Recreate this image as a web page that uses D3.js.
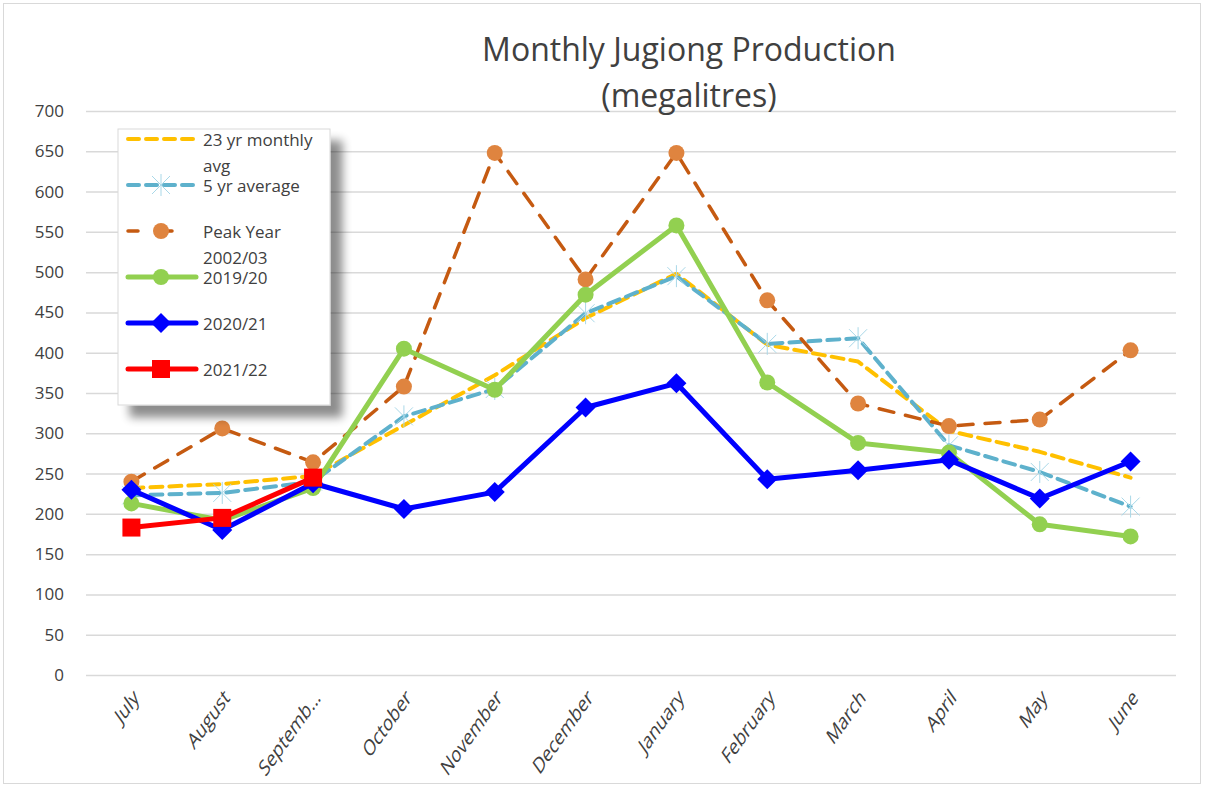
<!DOCTYPE html>
<html>
<head>
<meta charset="utf-8">
<script src="https://cdn.jsdelivr.net/npm/d3@7"></script>
<style>
  body { margin: 0; background: #fff; }
  svg text { font-family: "Open Sans", "Noto Sans", sans-serif; fill: #404040; }
</style>
</head>
<body>
<div id="chart"></div>
<script>
// months on the x axis
let months = ["July", "August", "Septemb...", "October", "November", "December",
  "January", "February", "March", "April", "May", "June"];

// y axis ticks
let yTicks = [0, 50, 100, 150, 200, 250, 300, 350, 400, 450, 500, 550, 600, 650, 700];

// series values (megalitres)
let avg23 = [232, 237, 247, 310, 372, 443, 498, 410, 389, 303, 277, 245];
let avg5 = [223, 226, 240, 321, 355, 449, 495, 411, 418, 285, 252, 209];
let peak0203 = [240, 306, 264, 358, 648, 491, 648, 465, 337, 309, 317, 403];
let y1920 = [213, 192, 232, 405, 354, 472, 558, 363, 288, 276, 187, 172];
let y2021 = [230, 180, 238, 206, 227, 332, 362, 243, 254, 267, 219, 265];
let y2122 = [183, 195, 245];

let width = 1206;
let height = 787;
let plotLeft = 86;
let plotRight = 1176;
let plotTop = 111;
let plotBottom = 675;

let svg = d3.select("#chart")
  .append("svg")
  .attr("width", width)
  .attr("height", height);

// outer chart border
svg.append("rect")
  .attr("x", 3.5).attr("y", 3.5)
  .attr("width", 1197).attr("height", 780)
  .attr("fill", "#fff")
  .attr("stroke", "#d9d9d9");

let xScale = d3.scalePoint()
  .domain(months)
  .range([plotLeft, plotRight])
  .padding(0.5);

let yScale = d3.scaleLinear()
  .domain([0, 700])
  .range([plotBottom, plotTop]);

// gridlines + y labels
let yAxis = d3.axisLeft(yScale)
  .tickValues(yTicks)
  .tickSize(-(plotRight - plotLeft))
  .tickPadding(22);

let yG = svg.append("g")
  .attr("transform", "translate(" + plotLeft + ",0)")
  .call(yAxis);
yG.select(".domain").remove();
yG.selectAll(".tick line").attr("stroke", "#d9d9d9").attr("stroke-width", 1.5);
yG.selectAll(".tick text")
  .attr("font-size", 17)
  .attr("fill", "#404040")
  .style("font-family", "'Open Sans', sans-serif");

// x labels, rotated (the picture is a bit stretched vertically, so the text looks sheared)
let xAxis = d3.axisBottom(xScale).tickSize(0).tickPadding(0);
let xG = svg.append("g")
  .attr("transform", "translate(0," + plotBottom + ")")
  .call(xAxis);
xG.select(".domain").remove();
xG.selectAll(".tick text")
  .attr("font-size", 16)
  .attr("fill", "#404040")
  .style("font-family", "'Open Sans', sans-serif")
  .attr("text-anchor", "end")
  .attr("dy", 0)
  .attr("transform", "translate(8,24) scale(1,1.4) rotate(-45)");

// title
svg.append("text")
  .attr("x", 689).attr("y", 61)
  .attr("text-anchor", "middle")
  .attr("font-size", 32)
  .text("Monthly Jugiong Production");
svg.append("text")
  .attr("x", 689).attr("y", 107)
  .attr("text-anchor", "middle")
  .attr("font-size", 32)
  .text("(megalitres)");

let line = d3.line()
  .x(function(d, i) { return xScale(months[i]); })
  .y(function(d) { return yScale(d); });

// series config
let series = [
  { name: "avg23", data: avg23, color: "#ffc000", width: 4, dash: "12,7", marker: "none" },
  { name: "avg5", data: avg5, color: "#5eb1cc", width: 4, dash: "12,7", marker: "star" },
  { name: "peak", data: peak0203, color: "#c55a11", width: 3.5, dash: "15,12", marker: "circle", mColor: "#df843f" },
  { name: "y1920", data: y1920, color: "#92d050", width: 5, dash: null, marker: "circle", mColor: "#92d050" },
  { name: "y2021", data: y2021, color: "#0000ff", width: 5, dash: null, marker: "diamond", mColor: "#0000ff" },
  { name: "y2122", data: y2122, color: "#ff0000", width: 5, dash: null, marker: "square", mColor: "#ff0000" }
];

function drawMarker(g, type, x, y, color) {
  if (type === "circle") {
    g.append("circle").attr("cx", x).attr("cy", y).attr("r", 8).attr("fill", color);
  } else if (type === "diamond") {
    g.append("path")
      .attr("d", "M" + x + "," + (y - 10) + "L" + (x + 10) + "," + y + "L" + x + "," + (y + 10) + "L" + (x - 10) + "," + y + "Z")
      .attr("fill", color);
  } else if (type === "square") {
    g.append("rect").attr("x", x - 9).attr("y", y - 9).attr("width", 18).attr("height", 18).attr("fill", color);
  } else if (type === "star") {
    let s = 9;
    g.append("path")
      .attr("d", "M" + (x - s) + "," + (y - s) + "L" + (x + s) + "," + (y + s) +
        "M" + (x - s) + "," + (y + s) + "L" + (x + s) + "," + (y - s) +
        "M" + x + "," + (y - s - 2) + "L" + x + "," + (y + s + 2))
      .attr("stroke", "#a9d8e8").attr("stroke-width", 1).attr("fill", "none");
  }
}

series.forEach(function(s) {
  let g = svg.append("g").attr("class", "series " + s.name);
  g.append("path")
    .datum(s.data)
    .attr("d", line)
    .attr("fill", "none")
    .attr("stroke", s.color)
    .attr("stroke-width", s.width)
    .attr("stroke-dasharray", s.dash)
    .attr("stroke-linejoin", "round")
    .attr("stroke-linecap", "round");
  s.data.forEach(function(v, i) {
    drawMarker(g, s.marker, xScale(months[i]), yScale(v), s.mColor);
  });
});

// legend with drop shadow
let defs = svg.append("defs");
let filter = defs.append("filter").attr("id", "shadow")
  .attr("x", "-10%").attr("y", "-10%").attr("width", "130%").attr("height", "130%");
filter.append("feGaussianBlur").attr("in", "SourceAlpha").attr("stdDeviation", 5);
filter.append("feOffset").attr("dx", 12).attr("dy", 12).attr("result", "blur");
filter.append("feComponentTransfer").append("feFuncA").attr("type", "linear").attr("slope", 0.45);
let merge = filter.append("feMerge");
merge.append("feMergeNode");
merge.append("feMergeNode").attr("in", "SourceGraphic");

let legend = svg.append("g").attr("class", "legend");
legend.append("rect")
  .attr("x", 118).attr("y", 129)
  .attr("width", 212).attr("height", 276)
  .attr("fill", "#fff")
  .attr("stroke", "#d9d9d9")
  .attr("filter", "url(#shadow)");

let legendRows = [
  { s: series[0], y: 139, labels: ["23 yr monthly", "avg"] },
  { s: series[1], y: 185, labels: ["5 yr average"] },
  { s: series[2], y: 231, labels: ["Peak Year", "2002/03"] },
  { s: series[3], y: 277, labels: ["2019/20"] },
  { s: series[4], y: 323, labels: ["2020/21"] },
  { s: series[5], y: 369, labels: ["2021/22"] }
];

legendRows.forEach(function(r) {
  let dash = r.s.name === "peak" ? "10,24" : (r.s.dash ? "11,7" : null);
  legend.append("line")
    .attr("x1", 128).attr("x2", 196)
    .attr("y1", r.y).attr("y2", r.y)
    .attr("stroke", r.s.color)
    .attr("stroke-width", r.s.width)
    .attr("stroke-dasharray", dash)
    .attr("stroke-linecap", "round");
  drawMarker(legend, r.s.marker, 161, r.y, r.s.mColor);
  r.labels.forEach(function(t, j) {
    legend.append("text")
      .attr("x", 203).attr("y", r.y + 7 + j * 26)
      .attr("font-size", 17)
      .attr("fill", "#1a1a1a")
      .text(t);
  });
});
</script>
</body>
</html>
